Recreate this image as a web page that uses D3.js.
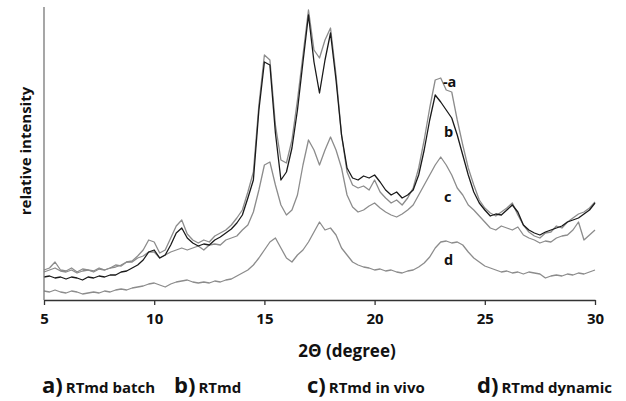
<!DOCTYPE html>
<html>
<head>
<meta charset="utf-8">
<script src="https://cdnjs.cloudflare.com/ajax/libs/d3/7.8.5/d3.min.js"></script>
<style>
  body { margin: 0; background: #fff; }
  text { font-family: "Open Sans", sans-serif; font-weight: bold; fill: #111; }
</style>
</head>
<body>
<script>
var width = 626;
var height = 401;

var margin = {top: 7, left: 44, right: 31, bottom: 101};

// 2-theta grid, 5 to 30 in steps of 0.25 degree
var angles = d3.range(0, 101).map(function(i) { return 5 + i * 0.25; });

// relative intensity (arbitrary units)
var seriesA = [30,32,38,30,29,32,28,31,30,29,32,30,
  32,35,34,38,39,44,50,60,58,47,50,62,
  74,80,66,60,57,60,58,64,67,70,75,82,
  90,108,128,195,245,240,175,140,137,160,200,245,
  290,250,242,260,272,225,165,128,115,112,114,110,
  120,108,102,97,100,95,102,112,132,160,192,220,
  222,210,208,180,155,132,115,100,92,87,84,88,
  92,97,85,75,68,64,62,67,68,74,72,78,
  82,86,88,92,98];

var seriesB = [23,24,22,23,21,23,22,20,23,22,24,23,
  25,25,28,29,32,35,40,48,50,42,45,55,
  67,72,62,57,54,56,55,60,63,67,71,77,
  85,102,120,190,238,235,167,120,128,152,190,238,
  285,238,207,240,267,220,165,132,122,120,124,122,
  125,118,110,105,108,102,105,110,125,150,180,205,
  198,190,182,165,145,125,108,97,90,84,86,85,
  90,95,88,75,70,67,65,68,70,72,74,78,
  80,82,86,90,97];

var seriesC = [28,30,32,29,28,30,27,29,30,28,31,30,
  32,33,35,38,38,42,44,48,48,42,45,48,
  50,52,50,52,54,50,55,56,55,60,62,64,
  70,75,88,110,135,138,115,95,85,90,105,135,
  160,150,135,150,163,150,132,105,93,88,90,94,
  97,92,88,85,83,86,90,95,105,115,125,135,
  143,135,125,112,105,95,90,84,78,72,70,74,
  72,70,73,65,62,60,57,59,58,62,64,65,
  70,78,60,65,70];

var seriesD = [9,8,10,8,7,9,8,6,7,8,7,9,
  8,10,11,10,12,13,14,16,17,15,13,16,
  18,19,20,18,17,18,17,19,18,20,21,24,
  27,30,35,42,50,58,62,52,42,38,45,50,
  58,68,78,70,72,65,52,45,38,35,33,32,
  30,31,29,30,28,27,29,30,33,37,43,52,
  58,59,57,58,55,48,42,38,34,32,30,28,
  29,27,28,26,28,27,26,22,24,25,24,26,
  25,27,26,28,30];

var xTicks = [5, 10, 15, 20, 25, 30];

var legendLetters = ["a)", "b)", "c)", "d)"];
var legendNames = ["RTmd batch", "RTmd", "RTmd in vivo", "RTmd dynamic"];

var curveLabels = [
  {label: "-a", x: 23.1, y: 213},
  {label: "b", x: 23.15, y: 163},
  {label: "c", x: 23.15, y: 98},
  {label: "d", x: 23.15, y: 35}
];

var svg = d3.select("body")
  .append("svg")
  .attr("width", width)
  .attr("height", height);

var xScale = d3.scaleLinear()
  .domain([5, 30])
  .range([margin.left, width - margin.right]);

var yScale = d3.scaleLinear()
  .domain([0, 293])
  .range([height - margin.bottom, margin.top]);

var line = d3.line()
  .x(function(d) { return xScale(d[0]); })
  .y(function(d) { return yScale(d[1]); });

function pairs(values) {
  return angles.map(function(a, i) { return [a, values[i]]; });
}

var series = [
  {values: seriesD, color: "#8c8c8c"},
  {values: seriesC, color: "#8c8c8c"},
  {values: seriesA, color: "#8c8c8c"},
  {values: seriesB, color: "#1a1a1a"}
];

svg.selectAll("path.trace")
  .data(series)
  .enter()
  .append("path")
    .attr("class", "trace")
    .attr("d", function(d) { return line(pairs(d.values)); })
    .attr("fill", "none")
    .attr("stroke", function(d) { return d.color; })
    .attr("stroke-width", 1.3)
    .attr("stroke-linejoin", "round");

// y axis: plain line, no ticks
svg.append("line")
  .attr("x1", margin.left).attr("x2", margin.left)
  .attr("y1", margin.top).attr("y2", height - margin.bottom)
  .attr("stroke", "#777")
  .attr("stroke-width", 1.3);

var xAxis = svg.append("g")
  .attr("transform", "translate(0," + (height - margin.bottom) + ")")
  .call(d3.axisBottom(xScale).tickValues(xTicks).tickSizeInner(5).tickSizeOuter(0).tickPadding(8));

xAxis.select(".domain").attr("stroke", "#333").attr("stroke-width", 1.3);
xAxis.selectAll(".tick line").attr("stroke", "#333").attr("stroke-width", 1.3);
xAxis.selectAll(".tick text")
  .style("font-family", "'Open Sans', sans-serif")
  .style("font-weight", "bold")
  .style("font-size", "15px")
  .attr("fill", "#111");

svg.append("text")
  .attr("x", 347)
  .attr("y", 357)
  .attr("text-anchor", "middle")
  .style("font-size", "17px")
  .text("2\u0398 (degree)");

svg.append("text")
  .attr("transform", "translate(31,151) rotate(-90)")
  .attr("text-anchor", "middle")
  .style("font-size", "15px")
  .text("relative intensity");

svg.selectAll("text.curve")
  .data(curveLabels)
  .enter()
  .append("text")
    .attr("class", "curve")
    .attr("x", function(d) { return xScale(d.x); })
    .attr("y", function(d) { return yScale(d.y); })
    .style("font-size", "14.5px")
    .text(function(d) { return d.label; });

var legendX = [42, 174, 307, 477];

var legend = svg.selectAll("text.legend")
  .data(legendLetters)
  .enter()
  .append("text")
    .attr("class", "legend")
    .attr("x", function(d, i) { return legendX[i]; })
    .attr("y", 393);

legend.append("tspan")
  .style("font-size", "22px")
  .text(function(d) { return d; });

legend.append("tspan")
  .attr("dx", 3)
  .style("font-size", "15px")
  .text(function(d, i) { return legendNames[i]; });
</script>
</body>
</html>
